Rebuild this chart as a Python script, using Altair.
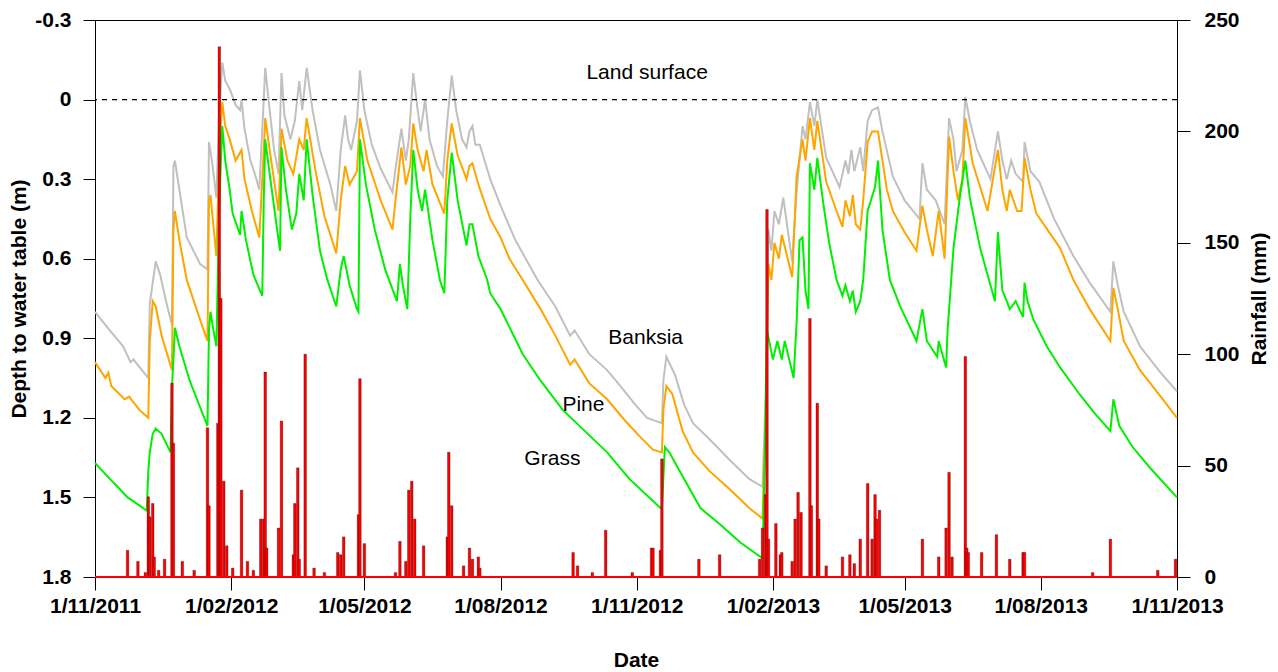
import altair as alt
import pandas as pd

START = pd.Timestamp("2011-11-01")

# (days after 1 Nov 2011, depth to water table in m)
banksia = [
    (0, 0.80), (10, 0.87), (19, 0.93), (24, 0.99), (26, 0.98), (36, 1.05), (37, 0.77), (41, 0.61),
    (44, 0.66), (48, 0.76), (52, 0.85), (53, 0.25), (54, 0.23), (57, 0.34), (62, 0.52), (71, 0.62),
    (76, 0.64), (77, 0.16), (79, 0.23), (82, 0.37), (84, 0.04), (86, -0.14), (88, -0.07), (91, -0.04),
    (95, 0.02), (98, 0.04), (99, 0.00), (101, 0.11), (105, 0.23), (108, 0.28), (111, 0.34), (114, 0.00),
    (115, -0.12), (118, 0.04), (121, 0.19), (124, 0.28), (126, -0.10), (128, 0.06), (132, 0.15),
    (135, 0.08), (138, -0.07), (140, 0.04), (143, -0.12), (147, 0.04), (152, 0.19), (159, 0.32),
    (163, 0.42), (166, 0.19), (169, 0.06), (171, 0.15), (173, 0.19), (177, 0.08), (179, -0.11),
    (182, 0.04), (187, 0.17), (193, 0.26), (201, 0.35), (203, 0.26), (207, 0.11), (210, 0.23),
    (212, 0.15), (215, -0.10), (218, 0.04), (220, 0.12), (223, 0.00), (226, 0.15), (231, 0.25),
    (235, 0.29), (238, 0.08), (241, -0.09), (244, 0.04), (248, 0.15), (251, 0.18), (253, 0.12),
    (255, 0.10), (257, 0.17), (260, 0.17), (267, 0.30), (274, 0.40), (284, 0.53), (299, 0.68),
    (311, 0.78), (321, 0.89), (324, 0.87), (334, 0.96), (346, 1.02), (355, 1.08), (365, 1.15),
    (373, 1.20), (383, 1.22), (384, 1.06), (386, 0.97), (392, 1.04), (398, 1.15), (404, 1.22),
    (415, 1.28), (429, 1.36), (442, 1.43), (451, 1.46), (453, 1.13), (455, 0.49), (457, 0.57),
    (459, 0.42), (462, 0.47), (465, 0.37), (468, 0.49), (471, 0.61), (474, 0.35), (478, 0.10),
    (480, 0.15), (483, 0.01), (486, 0.10), (488, 0.00), (494, 0.22), (499, 0.28), (503, 0.33),
    (507, 0.23), (509, 0.28), (511, 0.19), (513, 0.27), (517, 0.18), (519, 0.27), (522, 0.08),
    (525, 0.04), (529, 0.03), (532, 0.12), (539, 0.29), (547, 0.38), (557, 0.45), (559, 0.24),
    (562, 0.34), (568, 0.38), (574, 0.47), (577, 0.07), (580, 0.15), (582, 0.27), (586, 0.19),
    (588, -0.01), (591, 0.08), (596, 0.19), (605, 0.30), (610, 0.12), (613, 0.23), (616, 0.30),
    (619, 0.23), (622, 0.28), (627, 0.31), (628, 0.16), (632, 0.27), (638, 0.31), (648, 0.45),
    (661, 0.59), (672, 0.69), (686, 0.80), (688, 0.61), (691, 0.70), (695, 0.80), (706, 0.93),
    (720, 1.03), (731, 1.10),
]

pine = [
    (0, 0.99), (7, 1.05), (9, 1.03), (11, 1.08), (20, 1.13), (23, 1.12), (30, 1.17), (36, 1.20),
    (37, 0.91), (39, 0.76), (41, 0.78), (45, 0.89), (52, 1.02), (53, 0.49), (54, 0.42), (57, 0.53),
    (62, 0.68), (71, 0.83), (76, 0.91), (77, 0.38), (78, 0.36), (82, 0.59), (84, 0.19), (86, 0.01),
    (88, 0.10), (91, 0.15), (95, 0.23), (99, 0.19), (101, 0.30), (106, 0.42), (111, 0.52), (114, 0.19),
    (115, 0.07), (118, 0.19), (124, 0.42), (126, 0.11), (130, 0.23), (134, 0.28), (138, 0.15),
    (141, 0.19), (143, 0.07), (149, 0.27), (155, 0.44), (163, 0.58), (166, 0.38), (169, 0.25),
    (172, 0.32), (177, 0.27), (179, 0.07), (184, 0.23), (193, 0.38), (201, 0.49), (203, 0.38),
    (207, 0.18), (210, 0.32), (213, 0.25), (215, 0.09), (218, 0.19), (222, 0.27), (224, 0.19),
    (228, 0.32), (236, 0.43), (238, 0.23), (241, 0.09), (245, 0.21), (251, 0.30), (253, 0.25),
    (255, 0.24), (259, 0.32), (267, 0.45), (274, 0.52), (280, 0.60), (289, 0.68), (301, 0.79),
    (311, 0.89), (321, 1.00), (324, 0.98), (334, 1.07), (346, 1.13), (358, 1.21), (368, 1.27),
    (377, 1.32), (383, 1.33), (384, 1.17), (386, 1.08), (390, 1.11), (397, 1.25), (404, 1.33),
    (415, 1.40), (429, 1.47), (442, 1.54), (451, 1.58), (453, 1.21), (455, 0.62), (457, 0.68),
    (459, 0.54), (462, 0.60), (464, 0.51), (468, 0.60), (471, 0.67), (474, 0.29), (478, 0.15),
    (480, 0.23), (483, 0.07), (486, 0.19), (488, 0.08), (494, 0.31), (501, 0.42), (505, 0.48),
    (507, 0.38), (510, 0.44), (512, 0.36), (514, 0.47), (517, 0.49), (519, 0.38), (522, 0.16),
    (525, 0.12), (529, 0.12), (535, 0.34), (539, 0.42), (547, 0.50), (555, 0.57), (559, 0.40),
    (562, 0.49), (566, 0.59), (570, 0.42), (574, 0.60), (577, 0.14), (580, 0.27), (583, 0.38),
    (586, 0.30), (588, 0.07), (593, 0.24), (603, 0.42), (610, 0.19), (613, 0.34), (616, 0.42),
    (618, 0.34), (623, 0.42), (626, 0.42), (628, 0.22), (632, 0.34), (636, 0.43), (652, 0.56),
    (661, 0.68), (672, 0.79), (686, 0.91), (688, 0.71), (691, 0.79), (695, 0.91), (706, 1.02),
    (720, 1.12), (731, 1.20),
]

grass = [
    (0, 1.37), (10, 1.43), (17, 1.47), (22, 1.50), (30, 1.53), (35, 1.55), (36, 1.40), (37, 1.33),
    (39, 1.26), (41, 1.24), (45, 1.26), (51, 1.33), (52, 1.09), (54, 0.86), (57, 0.93), (64, 1.06),
    (71, 1.16), (76, 1.23), (77, 0.87), (78, 0.80), (80, 0.87), (82, 0.93), (84, 0.38), (86, 0.10),
    (88, 0.23), (91, 0.34), (93, 0.43), (98, 0.51), (99, 0.42), (102, 0.53), (107, 0.66), (113, 0.74),
    (114, 0.38), (115, 0.15), (118, 0.28), (124, 0.53), (125, 0.57), (126, 0.18), (129, 0.34),
    (133, 0.49), (136, 0.43), (138, 0.28), (141, 0.38), (143, 0.15), (147, 0.36), (152, 0.57),
    (157, 0.68), (163, 0.78), (166, 0.64), (168, 0.59), (172, 0.70), (177, 0.79), (178, 0.80),
    (179, 0.15), (183, 0.32), (189, 0.49), (196, 0.64), (204, 0.76), (206, 0.62), (208, 0.70),
    (211, 0.79), (213, 0.45), (215, 0.19), (218, 0.34), (221, 0.42), (223, 0.34), (228, 0.53),
    (233, 0.68), (236, 0.73), (238, 0.38), (241, 0.20), (245, 0.38), (251, 0.55), (253, 0.47),
    (255, 0.47), (259, 0.59), (265, 0.68), (267, 0.73), (274, 0.79), (289, 0.96), (301, 1.06),
    (316, 1.17), (331, 1.25), (346, 1.33), (361, 1.43), (382, 1.54), (383, 1.54), (385, 1.31),
    (388, 1.33), (395, 1.40), (409, 1.54), (422, 1.60), (436, 1.67), (451, 1.73), (453, 1.21),
    (454, 0.87), (458, 0.98), (461, 0.91), (464, 0.98), (466, 0.91), (472, 1.05), (474, 0.84),
    (476, 0.53), (478, 0.52), (480, 0.72), (482, 0.79), (483, 0.24), (486, 0.34), (488, 0.22),
    (492, 0.39), (496, 0.54), (501, 0.68), (505, 0.74), (507, 0.70), (510, 0.76), (512, 0.72),
    (514, 0.80), (517, 0.76), (519, 0.68), (522, 0.42), (527, 0.33), (529, 0.23), (532, 0.49),
    (537, 0.68), (544, 0.78), (555, 0.91), (559, 0.79), (562, 0.91), (569, 0.97), (570, 0.91),
    (575, 1.01), (576, 0.87), (580, 0.56), (584, 0.38), (588, 0.23), (591, 0.37), (598, 0.56),
    (605, 0.70), (608, 0.76), (610, 0.50), (613, 0.72), (616, 0.76), (618, 0.79), (622, 0.76),
    (627, 0.82), (628, 0.69), (630, 0.76), (634, 0.83), (643, 0.93), (652, 1.01), (665, 1.11),
    (675, 1.18), (686, 1.25), (688, 1.13), (692, 1.23), (701, 1.31), (713, 1.39), (731, 1.50),
]

# (days after 1 Nov 2011, daily rainfall in mm)
rain = [
    (22, 12), (29, 7), (34, 2), (36, 36), (37, 27), (39, 33), (40, 9), (43, 3), (47, 8), (52, 87),
    (53, 60), (59, 7), (67, 3), (76, 67), (77, 32), (83, 69), (84, 238), (85, 125), (87, 43), (89, 14),
    (93, 4), (99, 39), (103, 7), (107, 3), (112, 26), (114, 26), (115, 92), (116, 13), (124, 22),
    (126, 70), (134, 10), (135, 33), (137, 49), (138, 8), (142, 100), (148, 4), (155, 2), (164, 11),
    (166, 10), (168, 18), (178, 28), (179, 89), (182, 15), (203, 2), (206, 16), (210, 7), (212, 39),
    (214, 43), (216, 26), (222, 14), (238, 18), (239, 56), (241, 32), (249, 5), (253, 13), (255, 8),
    (259, 9), (260, 4), (323, 11), (326, 5), (336, 2), (345, 21), (363, 2), (376, 13), (377, 13),
    (382, 12), (383, 53), (408, 8), (422, 10), (449, 8), (451, 22), (453, 37), (454, 165), (455, 17),
    (460, 24), (463, 10), (464, 11), (471, 7), (473, 26), (475, 38), (477, 29), (483, 116), (484, 32),
    (488, 78), (489, 26), (494, 5), (505, 9), (510, 10), (513, 6), (517, 17), (522, 42), (525, 17),
    (527, 37), (528, 26), (530, 30), (559, 17), (570, 9), (575, 22), (577, 47), (579, 9), (588, 99),
    (589, 13), (590, 11), (599, 11), (609, 19), (618, 8), (627, 11), (628, 11), (674, 2), (686, 17),
    (718, 3), (730, 8),
]

depth_ticks = [-0.3, 0, 0.3, 0.6, 0.9, 1.2, 1.5, 1.8]
rain_ticks = [0, 50, 100, 150, 200, 250]
date_ticks = [(2011, 11), (2012, 2), (2012, 5), (2012, 8), (2012, 11),
              (2013, 2), (2013, 5), (2013, 8), (2013, 11)]

# in-plot annotations: text, date, depth (m)
annotations = [
    ("Land surface", "2012-11-08", -0.10),
    ("Banksia", "2012-11-07", 0.90),
    ("Pine", "2012-09-26", 1.15),
    ("Grass", "2012-09-05", 1.355),
]

series_colors = {"Banksia": "#c0c0c0", "Pine": "#ffa500", "Grass": "#00f000"}


def frame(pairs, name):
    days, values = zip(*pairs)
    return pd.DataFrame({
        "date": START + pd.to_timedelta(list(days), unit="D"),
        name: list(values),
    })


W, H = 1082, 557
FONT = "Liberation Sans"

x_scale = alt.Scale(domain=[alt.DateTime(year=2011, month=11, date=1),
                            alt.DateTime(year=2013, month=11, date=1)],
                    nice=False, padding=0)
x_axis = alt.Axis(
    values=[alt.DateTime(year=y, month=m, date=1) for y, m in date_ticks],
    format="%-d/%m/%Y", title="Date", orient="bottom", tickSize=13, labelPadding=5,
    labelFlush=False, labelOverlap=False, titleX=W / 2, titleY=83,
    titleAlign="center", titleBaseline="middle",
)
x_enc = alt.X("date:T", scale=x_scale, axis=x_axis)

depth_scale = alt.Scale(domain=[-0.3, 1.8], reverse=True, nice=False, zero=False)
depth_axis = alt.Axis(
    orient="left", values=depth_ticks, format="~g", title="Depth to water table (m)",
    labelExpr="replace(datum.label, '\u2212', '-')",
    tickSize=12, labelPadding=12, labelFlush=False, titleX=-76, titleY=H / 2,
    titleAngle=270, titleAlign="center", titleBaseline="middle",
)
y_depth = alt.Y("depth:Q", scale=depth_scale, axis=depth_axis)

rain_scale = alt.Scale(domain=[0, 250], nice=False)
rain_axis = alt.Axis(
    orient="right", values=rain_ticks, title="Rainfall (mm)", tickSize=13, labelPadding=14,
    labelFlush=False, titleX=82, titleY=H / 2, titleAngle=270,
    titleAlign="center", titleBaseline="middle",
)

lines = [
    alt.Chart(frame(pairs, "depth"))
    .mark_line(color=series_colors[name], strokeWidth=2)
    .encode(x=x_enc, y=y_depth)
    for name, pairs in [("Banksia", banksia), ("Pine", pine), ("Grass", grass)]
]

land_surface = alt.Chart().mark_rule(
    color="black", strokeDash=[5, 5], strokeWidth=1.3
).encode(y=alt.datum(0, scale=depth_scale, axis=depth_axis))

labels_df = pd.DataFrame(annotations, columns=["text", "date", "depth"])
labels = alt.Chart(labels_df).mark_text(
    font=FONT, fontSize=21, color="black", align="center", baseline="middle"
).encode(x=x_enc, y=y_depth, text="text:N")

depth_layer = alt.layer(*lines, land_surface, labels)

rain_df = frame(rain, "rain")
bars = alt.Chart(rain_df).mark_bar(
    color="#ff0000", size=2.6, stroke="#000000", strokeWidth=0.4, strokeOpacity=0.7
).encode(
    x=x_enc, y=alt.Y("rain:Q", scale=rain_scale, axis=rain_axis)
)
baseline = alt.Chart().mark_rule(color="#ff0000", strokeWidth=2).encode(
    y=alt.datum(0, scale=rain_scale, axis=rain_axis)
)
rain_layer = alt.layer(bars, baseline)

chart = (
    alt.layer(depth_layer, rain_layer)
    .resolve_scale(y="independent")
    .properties(
        width=W, height=H,
        autosize=alt.AutoSizeParams(type="none"),
        padding={"left": 95, "top": 20, "right": 101, "bottom": 95},
        background="white",
    )
    .configure_view(stroke="black", strokeWidth=1)
    .configure_axis(
        grid=False, labelFont=FONT, labelFontSize=21, labelFontWeight="bold", labelColor="black",
        titleFont=FONT, titleFontSize=21, titleFontWeight="bold", titleColor="black",
        tickColor="black", domainColor="black", tickWidth=1, domainWidth=1,
    )
)

chart.save("out.html", embed_options={"renderer": "svg", "actions": False})
